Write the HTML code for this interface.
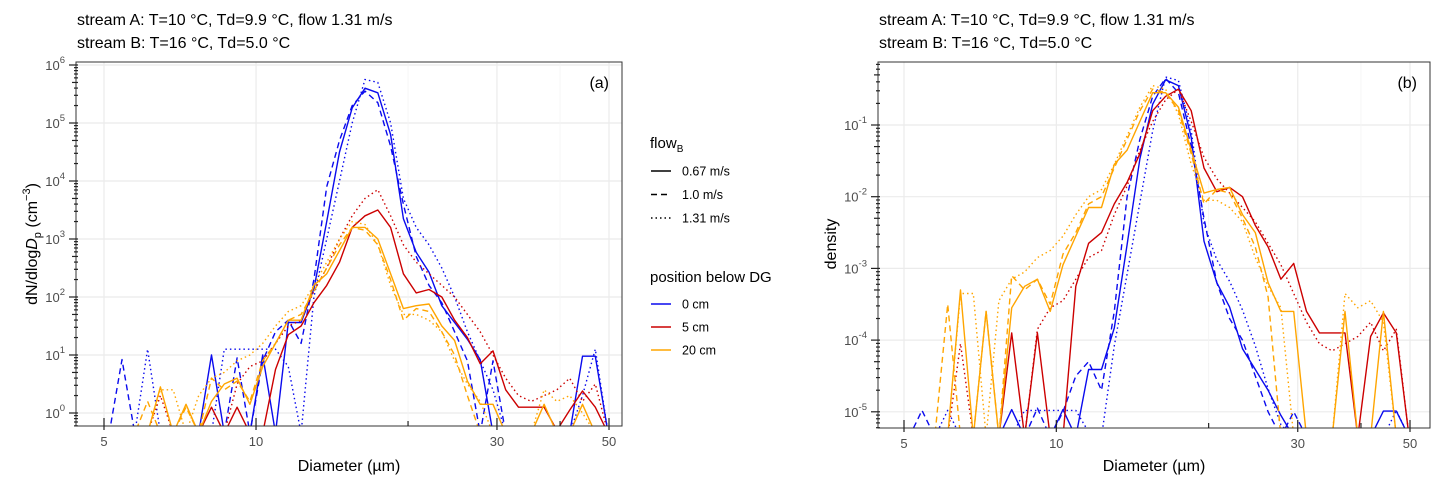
<!DOCTYPE html>
<html><head><meta charset="utf-8">
<style>
html,body{margin:0;padding:0;background:#fff;overflow:hidden;width:1445px;height:488px;}
svg{display:block;}
svg text{font-family:"Liberation Sans",sans-serif;}
</style></head>
<body>
<svg id="chart" width="1445" height="488" viewBox="0 0 1445 488" xmlns="http://www.w3.org/2000/svg">
<defs>
<clipPath id="clipA"><rect x="76" y="62" width="546" height="364"/></clipPath>
<clipPath id="clipB"><rect x="878" y="62" width="552" height="366"/></clipPath>
</defs>
<rect width="1445" height="488" fill="#fff"/>
<g id="panelA"></g>
<g id="panelB"></g>
<g id="legend"></g>
</svg>
<script>
const F = -9;
const binStart = 5.12;
const binStep = 0.02533;
const nBins = 40;
const seriesNames = ['0cm-0.67','0cm-1.0','0cm-1.31','5cm-0.67','5cm-1.31','20cm-0.67','20cm-1.0','20cm-1.31'];
// panel a: log10 dN/dlogDp (F = zero count)
const aBlueSolid = [F,F,F,F,F,F,F,F,1.0,F,F,F,1.0,F,1.56,1.56,2.14,3.3,4.5,5.26,5.6,5.52,4.8,3.35,2.77,2.43,1.85,1.56,1.27,0.92,F,F,F,F,F,F,F,0.98,0.98,F];
const aBlueDash = [F,0.92,F,F,F,F,F,F,F,F,0.95,F,0.9,1.4,1.6,1.2,2.3,3.9,4.7,5.3,5.55,5.35,4.6,3.6,2.7,2.2,1.9,1.4,0.9,F,0.9,F,F,F,F,F,F,F,F,F];
const aBlueDot = [F,F,F,1.1,F,F,F,F,F,1.1,1.1,1.1,1.1,1.1,0.8,F,2.0,3.0,4.0,5.0,5.75,5.7,5.0,3.7,3.2,2.9,2.5,2.0,1.4,0.9,0.4,F,F,F,F,F,F,0.3,1.1,F];
const aRedSolid = [F,F,F,F,F,F,F,F,0.1,F,0.1,F,F,0.75,1.35,1.5,1.9,2.2,2.6,3.2,3.4,3.5,3.2,2.4,2.07,2.13,2.0,1.6,1.3,0.85,1.07,0.4,0.1,0.1,0.1,-0.3,0.05,0.38,0.1,F];
const aRedDot = [F,F,F,F,0.3,F,F,F,F,F,0.5,0.8,0.9,1.2,1.5,1.6,2.1,2.5,3.0,3.4,3.7,3.85,3.4,2.9,2.6,2.4,2.2,2.0,1.7,1.4,1.0,0.6,0.3,0.2,0.3,0.4,0.6,0.2,0.5,F];
const aOrSolid = [F,F,F,F,0.45,F,0.15,F,0.2,0.5,0.6,0.15,0.8,1.2,1.6,1.6,2.2,2.4,2.8,3.2,3.2,3.0,2.4,1.8,1.85,1.88,1.5,1.25,0.55,0.15,0.15,F,F,F,0.15,F,F,0.15,F,F];
const aOrDash = [F,F,F,0.2,F,F,0.1,F,0.6,0.4,0.55,0.2,0.9,1.2,1.6,1.7,2.1,2.5,2.9,3.2,3.15,2.9,2.3,1.6,1.8,1.75,1.4,1.0,0.3,F,F,F,F,F,F,F,F,F,F,F];
const aOrDot = [F,F,F,F,0.4,0.4,F,0.3,0.6,0.7,0.9,1.0,1.2,1.5,1.75,1.85,2.2,2.6,3.0,3.3,3.25,2.9,2.2,1.7,1.7,1.6,1.4,0.9,0.5,0.2,F,F,F,F,0.4,0.2,0.3,0.0,F,F];
// panel b: log10 density
const bBlueSolid = [F,F,F,F,F,F,F,F,-4.97,F,F,F,-4.97,F,-4.41,-4.41,-3.83,-2.67,-1.47,-0.71,-0.37,-0.45,-1.17,-2.62,-3.2,-3.54,-4.12,-4.41,-4.7,-5.05,F,F,F,F,F,F,F,-4.99,-4.99,F];
const bBlueDash = [F,-4.98,F,F,F,F,F,F,F,F,-4.95,F,-5.0,-4.5,-4.3,-4.7,-3.6,-2.0,-1.2,-0.6,-0.35,-0.55,-1.3,-2.3,-3.2,-3.7,-4.0,-4.5,-5.0,F,-5.0,F,F,F,F,F,F,F,F,F];
const bBlueDot = [F,F,F,-4.98,F,F,F,F,F,-4.98,-4.98,-4.98,-4.98,-4.98,-5.28,F,-4.08,-3.08,-2.08,-1.08,-0.33,-0.38,-1.08,-2.38,-2.88,-3.18,-3.58,-4.08,-4.68,-5.18,F,F,F,F,F,F,F,-5.78,-4.98,F];
const bRedSolid = [F,F,F,F,F,F,F,F,-3.9,F,-3.9,F,F,-3.25,-2.65,-2.5,-2.1,-1.8,-1.4,-0.8,-0.6,-0.5,-0.8,-1.6,-1.93,-1.87,-2.0,-2.4,-2.7,-3.15,-2.93,-3.6,-3.9,-3.9,-3.9,F,-3.95,-3.62,-3.9,F];
const bRedDot = [F,F,F,F,-4.05,F,F,F,F,F,-3.85,-3.55,-3.45,-3.15,-2.85,-2.75,-2.25,-1.85,-1.35,-0.95,-0.65,-0.5,-0.95,-1.45,-1.75,-1.95,-2.15,-2.35,-2.65,-2.95,-3.35,-3.75,-4.05,-4.15,-4.05,-3.95,-3.75,-4.15,-3.85,F];
const bOrSolid = [F,F,F,F,-3.3,F,-3.6,F,-3.55,-3.25,-3.15,-3.6,-2.95,-2.55,-2.15,-2.15,-1.55,-1.35,-0.95,-0.55,-0.55,-0.75,-1.35,-1.95,-1.9,-1.87,-2.25,-2.5,-3.2,-3.6,-3.6,F,F,F,-3.6,F,F,-3.6,F,F];
const bOrDash = [F,F,F,-3.5,F,F,-3.6,F,-3.1,-3.3,-3.15,-3.5,-2.8,-2.5,-2.1,-2.0,-1.6,-1.2,-0.8,-0.5,-0.55,-0.8,-1.4,-2.1,-1.9,-1.95,-2.3,-2.7,-3.4,F,F,F,F,F,F,F,F,F,F,F];
const bOrDot = [F,F,F,F,-3.35,-3.35,F,-3.45,-3.15,-3.05,-2.85,-2.75,-2.55,-2.25,-2.0,-1.9,-1.55,-1.15,-0.75,-0.45,-0.5,-0.85,-1.55,-2.05,-2.05,-2.15,-2.35,-2.85,-3.25,-3.55,F,F,F,F,-3.35,-3.55,-3.45,-3.75,F,F];
const xTicks = [5,10,30,50];
const aYTicks = [0,1,2,3,4,5,6];
const bYTicks = [-5,-4,-3,-2,-1];

const NS='http://www.w3.org/2000/svg';
function mk(tag, attrs, parent){const e=document.createElementNS(NS,tag);for(const k in attrs)e.setAttribute(k,attrs[k]);parent.appendChild(e);return e;}
const BLUE='#0a0aee', RED='#cc0000', OR='#ffa500';
const DASH={solid:'',dash:'6,4',dot:'1.5,3'};

function panel(g, cfg){
  const xs = d => cfg.x0 + cfg.xd*Math.log10(d/5);
  const ys = v => cfg.yRef - cfg.yd*(v - cfg.vRef);
  const grid = mk('g',{},g);
  
  
  for(const t of cfg.yTicks){
    mk('line',{x1:cfg.L,x2:cfg.R,y1:ys(t),y2:ys(t),stroke:'#ebebeb','stroke-width':1.2},grid);
  }
  for(const t of [20,40]) mk('line',{x1:xs(t),x2:xs(t),y1:cfg.T,y2:cfg.B,stroke:'#f4f4f4','stroke-width':0.8},grid);
  for(const t of xTicks) mk('line',{x1:xs(t),x2:xs(t),y1:cfg.T,y2:cfg.B,stroke:'#ebebeb','stroke-width':1.2},grid);
  const sg = mk('g',{'clip-path':cfg.clip},g);
  
  
  cfg.series.forEach((s,si)=>{
    let d='';
    s.vals.forEach((v,i)=>{
      const dia = binStart*Math.pow(10,binStep*i);
      const vv = v < cfg.floor ? cfg.floor : v;
      d += (i?'L':'M')+xs(dia).toFixed(1)+','+ys(vv).toFixed(1);
    });
    const p = mk('path',{d:d,fill:'none',stroke:s.c,'stroke-width':1.4,'stroke-dasharray':DASH[s.t],'stroke-linejoin':'round'},sg);
    
    
  });
  mk('rect',{x:cfg.L,y:cfg.T,width:cfg.R-cfg.L,height:cfg.B-cfg.T,fill:'none',stroke:'#333','stroke-width':1},g);
  const yax = mk('g',{},g);
  
  
  const lo = cfg.yTicks[0]-1, hi = cfg.yTicks[cfg.yTicks.length-1]+1;
  for(let k=lo;k<hi;k++){
    for(let m=1;m<=9;m++){
      const v = k+Math.log10(m);
      const y = ys(v);
      if(y<cfg.T-0.5||y>cfg.B+0.5) continue;
      const len = m===1?9:(m===5?6:4);
      mk('line',{x1:cfg.L-len+2,x2:cfg.L+2,y1:y,y2:y,stroke:'#222','stroke-width':1.2},yax);
    }
  }
  for(const t of cfg.yTicks){
    const tx = mk('text',{x:cfg.L-11,y:ys(t)+5,'text-anchor':'end','font-size':13,fill:'#4d4d4d'},yax);
    tx.textContent='10';
    const sp = mk('tspan',{dy:-7,'font-size':9.5},tx); sp.textContent=String(t);
    
    
  }
  const xax = mk('g',{},g);
  
  
  for(const t of [20,40]) mk('line',{x1:xs(t),x2:xs(t),y1:cfg.B-5,y2:cfg.B,stroke:'#222','stroke-width':1.2},xax);
  for(const t of xTicks){
    mk('line',{x1:xs(t),x2:xs(t),y1:cfg.B-8,y2:cfg.B+4,stroke:'#222','stroke-width':1.2},xax);
    const tx = mk('text',{x:xs(t),y:cfg.B+20,'text-anchor':'middle','font-size':13,fill:'#4d4d4d'},xax);
    tx.textContent=t;
    
    
  }
  const xl = mk('text',{x:(cfg.L+cfg.R)/2,y:471,'text-anchor':'middle','font-size':16,fill:'#000'},g);
  xl.textContent='Diameter (µm)';
  
  
  const pl = mk('text',{x:cfg.R-13,y:88,'text-anchor':'end','font-size':16,fill:'#000'},g);
  pl.textContent=cfg.tag;
  
  
  const t1 = mk('text',{x:cfg.L+1,y:25,'font-size':16,fill:'#000'},g);
  t1.textContent='stream A: T=10 °C, Td=9.9 °C, flow 1.31 m/s';
  
  
  const t2 = mk('text',{x:cfg.L+1,y:48,'font-size':16,fill:'#000'},g);
  t2.textContent='stream B: T=16 °C, Td=5.0 °C';
  
  
}

panel(document.getElementById('panelA'),{L:76,R:622,T:62,B:426,x0:104,xd:505,yRef:413,vRef:0,yd:58,floor:-0.35,clip:'url(#clipA)',tag:'(a)',yTicks:aYTicks,
 series:[{vals:aBlueSolid,c:BLUE,t:'solid'},{vals:aBlueDash,c:BLUE,t:'dash'},{vals:aBlueDot,c:BLUE,t:'dot'},
  {vals:aRedSolid,c:RED,t:'solid'},{vals:aRedDot,c:RED,t:'dot'},
  {vals:aOrSolid,c:OR,t:'solid'},{vals:aOrDash,c:OR,t:'dash'},{vals:aOrDot,c:OR,t:'dot'}]});
panel(document.getElementById('panelB'),{L:878,R:1430,T:62,B:428,x0:904,xd:506,yRef:125,vRef:-1,yd:71.7,floor:-5.35,clip:'url(#clipB)',tag:'(b)',yTicks:bYTicks,
 series:[{vals:bBlueSolid,c:BLUE,t:'solid'},{vals:bBlueDash,c:BLUE,t:'dash'},{vals:bBlueDot,c:BLUE,t:'dot'},
  {vals:bRedSolid,c:RED,t:'solid'},{vals:bRedDot,c:RED,t:'dot'},
  {vals:bOrSolid,c:OR,t:'solid'},{vals:bOrDash,c:OR,t:'dash'},{vals:bOrDot,c:OR,t:'dot'}]});

const svg=document.getElementById('chart');
const ya = mk('text',{x:0,y:0,transform:'translate(37,244) rotate(-90)','text-anchor':'middle','font-size':16,fill:'#000'},svg);
ya.innerHTML='dN/dlog<tspan font-style="italic">D</tspan><tspan font-size="11" dy="4">p</tspan><tspan dy="-4"> (cm</tspan><tspan font-size="11" dy="-7">−3</tspan><tspan dy="7">)</tspan>';


const yb = mk('text',{x:0,y:0,transform:'translate(836,244) rotate(-90)','text-anchor':'middle','font-size':16,fill:'#000'},svg);
yb.textContent='density';



const lg=document.getElementById('legend');
const lt1 = mk('text',{x:650,y:148,'font-size':15,fill:'#000'},lg);
lt1.innerHTML='flow<tspan font-size="10" dy="4">B</tspan>';


const flows=[['solid','0.67 m/s'],['dash','1.0 m/s'],['dot','1.31 m/s']];
flows.forEach((f,i)=>{
  const y=171+i*23.5;
  const ln = mk('line',{x1:651,x2:671,y1:y,y2:y,stroke:'#000','stroke-width':1.4,'stroke-dasharray':DASH[f[0]]},lg);
  
  
  const tx = mk('text',{x:682,y:y+4.5,'font-size':12.5,fill:'#000'},lg);
  tx.textContent=f[1];
  
  
});
const lt2 = mk('text',{x:650,y:282,'font-size':15,fill:'#000'},lg);
lt2.textContent='position below DG';


const pos=[[BLUE,'0 cm'],[RED,'5 cm'],[OR,'20 cm']];
pos.forEach((p,i)=>{
  const y=304+i*23;
  const ln = mk('line',{x1:651,x2:671,y1:y,y2:y,stroke:p[0],'stroke-width':1.6},lg);
  
  
  const tx = mk('text',{x:682,y:y+4.5,'font-size':12.5,fill:'#000'},lg);
  tx.textContent=p[1];
  
  
});
</script>
</body></html>
